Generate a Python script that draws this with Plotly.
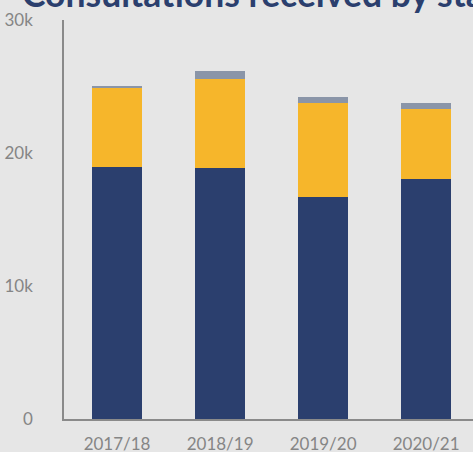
import plotly.graph_objects as go

years = ["2017/18", "2018/19", "2019/20", "2020/21"]
navy_vals = [18960, 18840, 16710, 18010]
yellow_vals = [5960, 6750, 7050, 5300]
gray_vals = [120, 550, 430, 450]
title_text = "Consultations received by stage"

NAVY = "#2b3f6e"
YELLOW = "#f6b62b"
GRAY = "#8a95a8"
BG = "#e6e6e6"

fig = go.Figure()
fig.add_trace(go.Bar(x=years, y=navy_vals, marker=dict(color=NAVY, line=dict(width=0)), name="Stage 1"))
fig.add_trace(go.Bar(x=years, y=yellow_vals, marker=dict(color=YELLOW, line=dict(width=0)), name="Stage 2"))
fig.add_trace(go.Bar(x=years, y=gray_vals, marker=dict(color=GRAY, line=dict(width=0)), name="Stage 3"))

fig.update_layout(
    barmode="stack",
    bargap=0.515,
    width=473, height=452,
    margin=dict(l=64, r=0, t=19.5, b=32.5, pad=0, autoexpand=False),
    paper_bgcolor=BG, plot_bgcolor=BG,
    showlegend=False,
    font=dict(family="Lato", color="#858585", size=17),
    title=dict(
        text="<b>" + title_text + "</b>",
        xref="container", yref="container", x=22 / 473, y=1,
        xanchor="left", yanchor="bottom", pad=dict(b=-7),
        font=dict(family="Lato", size=35.5, color=NAVY),
    ),
)
fig.update_xaxes(
    range=[-0.515, 3.455],
    showline=True, linecolor="#8a8a8a", linewidth=1.5,
    ticks="outside", ticklen=9, tickcolor="rgba(0,0,0,0)",
    showgrid=False, zeroline=False, automargin=False,
)
fig.update_yaxes(
    range=[0, 30000],
    tickvals=[0, 10000, 20000, 30000],
    ticktext=["0", "10k", "20k", "30k"],
    showline=True, linecolor="#8a8a8a", linewidth=1.5,
    ticks="outside", ticklen=26, tickcolor="rgba(0,0,0,0)",
    showgrid=False, zeroline=False, automargin=False,
)
fig.write_html(
    "out.html",
    config={"displayModeBar": False},
    post_script="document.body.style.margin='0';document.body.style.overflow='hidden';document.body.style.background='" + BG + "';",
)
